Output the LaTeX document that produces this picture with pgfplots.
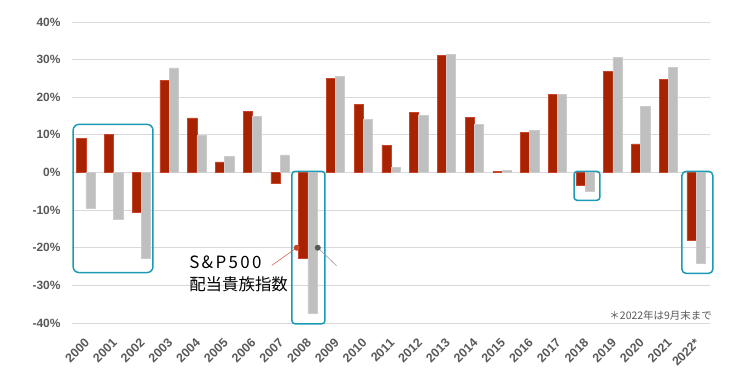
\documentclass[border=0pt]{standalone}
\usepackage{pgfplots}
\pgfplotsset{compat=1.18}
\usepackage{fontspec}
\setmainfont{Liberation Sans}
\newfontfamily\cjk{Noto Sans CJK JP}
\definecolor{barred}{HTML}{A82400}
\definecolor{barredb}{HTML}{C8442A}
\definecolor{bargray}{HTML}{BFBFBF}
\definecolor{bargrayb}{HTML}{CCCCCC}
\definecolor{boxteal}{HTML}{1A9BB3}
\definecolor{tickc}{HTML}{595959}
\definecolor{gridc}{HTML}{D9D9D9}
\pgfplotstableread{
x y
0 9.1
1 10.1
2 -10.6
3 24.4
4 14.5
5 2.8
6 16.3
7 -2.8
8 -22.8
9 25.1
10 18.1
11 7.3
12 16.0
13 31.1
14 14.7
15 0.2
16 10.7
17 20.7
18 -3.3
19 26.9
20 7.6
21 24.8
22 -17.9
}\redtab
\pgfplotstableread{
x y
0 -9.5
1 -12.4
2 -22.7
3 27.8
4 9.9
5 4.3
6 15.0
7 4.7
8 -37.4
9 25.5
10 14.2
11 1.4
12 15.1
13 31.4
14 12.8
15 0.5
16 11.1
17 20.8
18 -5.1
19 30.5
20 17.5
21 27.9
22 -24.1
}\graytab
\begin{document}
\begin{tikzpicture}
\useasboundingbox (-72bp,-57bp) rectangle (668bp,323bp);
\begin{axis}[
  at={(0,0)}, anchor=south west,
  scale only axis, width=638bp, height=301bp,
  xmin=-0.5, xmax=22.5, ymin=-40, ymax=40,
  axis line style={draw=none},
  major tick length=0pt,
  ymajorgrids, grid style={gridc, line width=1bp},
  ytick={-40,-30,...,40},
  yticklabels={-40\%,-30\%,-20\%,-10\%,0\%,10\%,20\%,30\%,40\%},
  yticklabel style={font=\bfseries\fontsize{12}{14}\selectfont, text=tickc, xshift=-8bp},
  xtick={0,...,22},
  xticklabels={2000,2001,2002,2003,2004,2005,2006,2007,2008,2009,2010,2011,2012,2013,2014,2015,2016,2017,2018,2019,2020,2021,2022*},
  xticklabel style={font=\bfseries\fontsize{12.5}{14}\selectfont, text=tickc, xshift=2bp, yshift=-17bp, rotate=45, anchor=east, inner sep=1bp},
  ybar=0pt, bar width=9.2bp,
  clip=false,
]
\addplot[fill=barred, draw=barredb, line width=0.5bp] table[x=x,y=y]{\redtab};
\addplot[fill=bargray, draw=bargrayb, line width=0.5bp] table[x=x,y=y]{\graytab};

\draw[boxteal, line width=1.5bp, rounded corners=6bp] (axis cs:-0.46,12.8) rectangle (axis cs:2.42,-26.6);
\draw[boxteal, line width=1.5bp, rounded corners=3bp] (axis cs:7.43,0.3) rectangle (axis cs:8.62,-40.2);
\draw[boxteal, line width=1.5bp, rounded corners=3bp] (axis cs:17.6,0.3) rectangle (axis cs:18.53,-7.4);
\draw[boxteal, line width=1.5bp, rounded corners=4bp] (axis cs:21.49,0.3) rectangle (axis cs:22.6,-26.8);

\draw[color=barredb!80, line width=0.6bp] (axis cs:7.6,-20) -- (axis cs:6.7,-24.7);
\fill[barredb] (axis cs:7.6,-20) circle (3bp);
\draw[color=gray!80, line width=0.6bp] (axis cs:8.36,-20) -- (axis cs:9.04,-24.8);
\fill[black!65] (axis cs:8.36,-20) circle (3bp);

\node[anchor=base west, inner sep=0pt, font=\cjk\fontsize{17}{20}\selectfont\addfontfeature{LetterSpace=14}] at (axis cs:3.72,-25.5) {S\&P500};
\node[anchor=base west, inner sep=0pt, font=\cjk\fontsize{16.5}{20}\selectfont] at (axis cs:3.72,-31.4) {配当貴族指数};
\node[anchor=base east, inner sep=0pt, text=tickc, font=\cjk\fontsize{10.5}{13}\selectfont] at (axis cs:22.57,-39.1) {＊2022年は9月末まで};
\end{axis}
\end{tikzpicture}
\end{document}
